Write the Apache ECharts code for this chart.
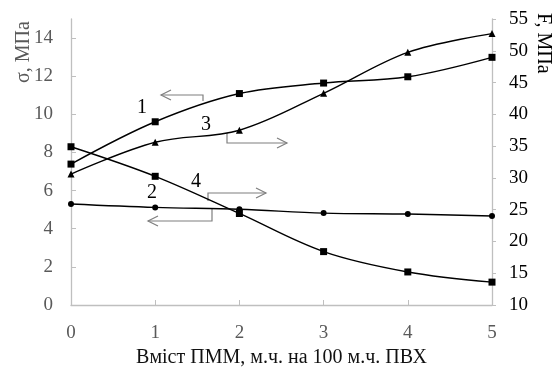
<!DOCTYPE html>
<html>
<head>
<meta charset="utf-8">
<script src="https://cdn.jsdelivr.net/npm/echarts@6/dist/echarts.min.js"></script>
<style>
html,body{margin:0;padding:0;background:#fff;}
#c{width:557px;height:369px;}
</style>
</head>
<body>
<div id="c"></div>
<script>
// Data
const xValues = [0, 1, 2, 3, 4, 5];
const series1 = [7.39, 9.61, 11.09, 11.64, 11.97, 12.99];   // σ, left axis, squares
const series2 = [5.30, 5.12, 5.02, 4.82, 4.77, 4.67];       // σ, left axis, circles
const series3 = [30.6, 35.6, 37.5, 43.3, 49.75, 52.7];      // F, right axis, triangles
const series4 = [34.9, 30.25, 24.4, 18.4, 15.2, 13.6];      // F, right axis, squares
const leftTicks = [0, 2, 4, 6, 8, 10, 12, 14];
const xTitle = 'Вміст ПММ, м.ч. на 100 м.ч. ПВХ';
const leftTitle = 'σ, МПа';
const rightTitle = 'F, МПа';

const pair = arr => xValues.map((x, i) => [x, arr[i]]);
const font = '"Liberation Serif", "Times New Roman", serif';
const grayAxis = '#bfbfbf';
const grayText = '#595959';

const chart = echarts.init(document.getElementById('c'));
const lineStyle = {color: '#000', width: 1.4};
function mk(name, data, yIdx, symbol, size) {
  return {
    name, type: 'line', data: pair(data), yAxisIndex: yIdx,
    smooth: 0.35, symbol, symbolSize: size,
    lineStyle, itemStyle: {color: '#000'}, animation: false
  };
}
chart.setOption({
  animation: false,
  grid: {left: 71, right: 65, top: 19, bottom: 64, containLabel: false, outerBoundsMode: 'none'},
  xAxis: {
    type: 'value', min: 0, max: 5, interval: 1,
    axisLine: {lineStyle: {color: grayAxis, width: 1.3}},
    axisTick: {show: true, inside: true, length: 5, lineStyle: {color: grayAxis}},
    splitLine: {show: false},
    axisLabel: {color: grayText, fontFamily: font, fontSize: 19, margin: 19},
    name: xTitle, nameLocation: 'middle', nameGap: 43,
    nameTextStyle: {color: '#111', fontFamily: font, fontSize: 20}
  },
  yAxis: [
    {
      type: 'value', min: 0, max: 15, position: 'left',
      axisLine: {show: true, lineStyle: {color: grayAxis, width: 1.3}},
      axisTick: {show: true, inside: true, length: 5, customValues: leftTicks, lineStyle: {color: grayAxis}},
      splitLine: {show: false},
      axisLabel: {color: grayText, fontFamily: font, fontSize: 19, margin: 18, customValues: leftTicks}
    },
    {
      type: 'value', min: 10, max: 55, interval: 5, position: 'right',
      axisLine: {show: true, lineStyle: {color: grayAxis, width: 1.3}},
      axisTick: {show: true, inside: false, length: 4, lineStyle: {color: grayAxis}},
      splitLine: {show: false},
      axisLabel: {color: '#000', fontFamily: font, fontSize: 19, margin: 17}
    }
  ],
  series: [
    mk('1', series1, 0, 'rect', 7),
    mk('2', series2, 0, 'circle', 6),
    mk('3', series3, 1, 'triangle', 7),
    mk('4', series4, 1, 'rect', 7)
  ],
  graphic: [
    {type: 'text', x: 24, y: 83, rotation: Math.PI / 2,
     style: {text: leftTitle, fill: grayText, font: '20px ' + font, textAlign: 'left', textVerticalAlign: 'middle'}},
    {type: 'text', x: 543, y: 13, rotation: -Math.PI / 2,
     style: {text: rightTitle, fill: '#000', font: '20px ' + font, textAlign: 'left', textVerticalAlign: 'middle'}},
    // labels
    {type: 'text', x: 142, y: 108, style: {text: '1', fill: '#000', font: '20px ' + font, textAlign: 'center', textVerticalAlign: 'middle'}},
    {type: 'text', x: 206, y: 125, style: {text: '3', fill: '#000', font: '20px ' + font, textAlign: 'center', textVerticalAlign: 'middle'}},
    {type: 'text', x: 152, y: 193, style: {text: '2', fill: '#000', font: '20px ' + font, textAlign: 'center', textVerticalAlign: 'middle'}},
    {type: 'text', x: 196, y: 182, style: {text: '4', fill: '#000', font: '20px ' + font, textAlign: 'center', textVerticalAlign: 'middle'}},
    // arrows
    {type: 'polyline', shape: {points: [[203, 101], [203, 95], [161, 95]]}, style: {stroke: '#7f7f7f', lineWidth: 1.2, fill: null}},
    {type: 'polyline', shape: {points: [[171, 90], [161, 95], [171, 100]]}, style: {stroke: '#7f7f7f', lineWidth: 1.2, fill: null}},
    {type: 'polyline', shape: {points: [[227, 133], [227, 143], [287, 143]]}, style: {stroke: '#7f7f7f', lineWidth: 1.2, fill: null}},
    {type: 'polyline', shape: {points: [[277, 138], [287, 143], [277, 148]]}, style: {stroke: '#7f7f7f', lineWidth: 1.2, fill: null}},
    {type: 'polyline', shape: {points: [[208, 201], [208, 193], [266, 193]]}, style: {stroke: '#7f7f7f', lineWidth: 1.2, fill: null}},
    {type: 'polyline', shape: {points: [[256, 188], [266, 193], [256, 198]]}, style: {stroke: '#7f7f7f', lineWidth: 1.2, fill: null}},
    {type: 'polyline', shape: {points: [[212, 209], [212, 221], [148, 221]]}, style: {stroke: '#7f7f7f', lineWidth: 1.2, fill: null}},
    {type: 'polyline', shape: {points: [[158, 216], [148, 221], [158, 226]]}, style: {stroke: '#7f7f7f', lineWidth: 1.2, fill: null}}
  ]
});
</script>
</body>
</html>
